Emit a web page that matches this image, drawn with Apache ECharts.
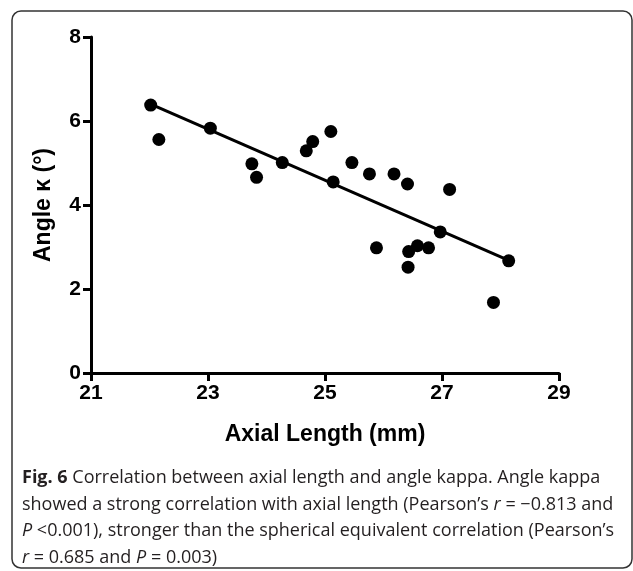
<!DOCTYPE html>
<html>
<head>
<meta charset="utf-8">
<script src="https://cdn.jsdelivr.net/npm/echarts@6/dist/echarts.min.js"></script>
<style>
html,body{margin:0;padding:0;background:#fff;}
#chart{width:633px;height:571px;}
</style>
</head>
<body>
<div id="chart"></div>
<script>
// Axial length (mm) of each eye
const axialLength = [22.02, 22.16, 23.04, 23.75, 23.83, 24.27, 24.68, 24.79, 25.10, 25.14, 25.46, 25.76, 26.18, 26.41, 27.13, 25.88, 26.43, 26.58, 26.77, 26.42, 26.97, 28.14, 27.88];
// Angle kappa (degrees)
const angleKappa = [6.38, 5.56, 5.83, 4.98, 4.66, 5.01, 5.29, 5.51, 5.75, 4.55, 5.01, 4.74, 4.74, 4.50, 4.37, 2.98, 2.89, 3.03, 2.98, 2.52, 3.36, 2.67, 1.68];
// Regression line end points
const fitX = [22.02, 28.13];
const fitY = [6.40, 2.69];
const xTicks = [21, 23, 25, 27, 29];
const yTicks = [0, 2, 4, 6, 8];
const xTitle = 'Axial Length (mm)';
const yTitle = 'Angle κ (°)';
const captionLines = [
  '{b|Fig. 6} Correlation between axial length and angle kappa. Angle kappa',
  'showed a strong correlation with axial length (Pearson’s {i|r} = −0.813 and',
  '{i|P} <0.001), stronger than the spherical equivalent correlation (Pearson’s',
  '{i|r} = 0.685 and {i|P} = 0.003)'
];

const chart = echarts.init(document.getElementById('chart'));
const axisFont = 'Liberation Sans, Arial, sans-serif';
const capFont = 'Open Sans, Noto Sans, sans-serif';
const scatterData = axialLength.map((x, i) => [x, angleKappa[i]]);
const fitData = fitX.map((x, i) => [x, fitY[i]]);

function axisCommon(ticks) {
  return {
    type: 'value',
    min: ticks[0],
    max: ticks[ticks.length - 1],
    interval: ticks[1] - ticks[0],
    splitLine: {show: false},
    axisLine: {show: true, lineStyle: {color: '#000', width: 3}},
    axisTick: {show: true, inside: false, length: 8, lineStyle: {color: '#000', width: 3}},
    axisLabel: {color: '#000', fontSize: 21, fontWeight: 'bold', fontFamily: axisFont, margin: 10},
    nameTextStyle: {color: '#000', fontSize: 23, fontWeight: 'bold', fontFamily: axisFont},
    nameLocation: 'middle'
  };
}

chart.setOption({
  animation: false,
  backgroundColor: '#fff',
  grid: {left: 91, right: 74, top: 37, bottom: 198, containLabel: false},
  xAxis: Object.assign(axisCommon(xTicks), {name: xTitle, nameGap: 50}),
  yAxis: Object.assign(axisCommon(yTicks), {name: yTitle, nameGap: 36}),
  series: [
    {
      type: 'scatter',
      data: scatterData,
      symbol: 'circle',
      symbolSize: 13,
      itemStyle: {color: '#000', opacity: 1},
      z: 3
    },
    {
      type: 'line',
      data: fitData,
      showSymbol: false,
      symbol: 'none',
      lineStyle: {color: '#000', width: 3},
      z: 2
    }
  ],
  graphic: [
    {
      type: 'rect',
      shape: {x: 12, y: 11, width: 620, height: 557, r: 9},
      style: {fill: 'none', stroke: '#333', lineWidth: 1.5},
      silent: true
    },
    {
      type: 'text',
      x: 22,
      y: 465,
      style: {
        text: captionLines.join('\n'),
        fontFamily: capFont,
        fontSize: 18,
        lineHeight: 26.5,
        fill: '#231f20',
        rich: {
          b: {fontFamily: capFont, fontSize: 18, fontWeight: 'bold', lineHeight: 26.5, fill: '#231f20'},
          i: {fontFamily: capFont, fontSize: 18, fontStyle: 'italic', lineHeight: 26.5, fill: '#231f20'}
        }
      },
      silent: true
    }
  ]
});
</script>
</body>
</html>
